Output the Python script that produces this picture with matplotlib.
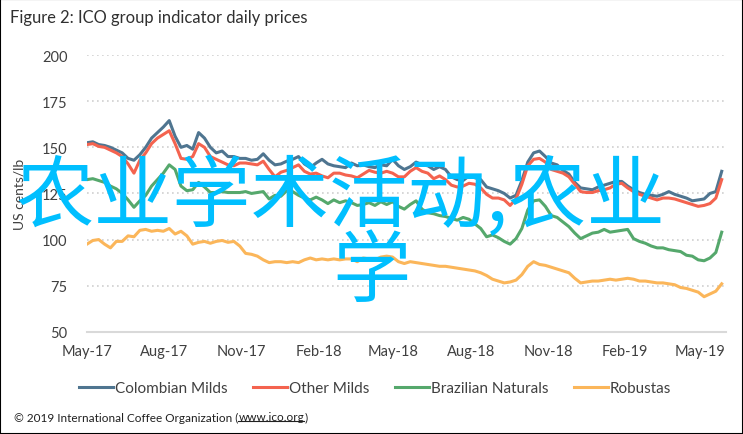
import numpy as np
import pandas as pd
import matplotlib
matplotlib.use("Agg")
import matplotlib.pyplot as plt
import matplotlib.dates as mdates
from matplotlib.patches import Rectangle
from matplotlib.lines import Line2D

# weekly readings, May 2017 - May 2019 (US cents/lb)
dates = pd.date_range("2017-05-01", periods=109, freq="7D")

colombian = [152.5, 153, 151.5, 151, 150, 148.5, 147, 144, 143, 146, 150, 155, 158, 161, 164.5, 156, 150, 151, 149, 158, 155, 150, 147, 148, 145, 145, 144, 144, 143,
             143.5, 146.5, 143, 140.5, 141, 142.5, 143.5, 145, 141, 139, 141.5, 143.5, 141, 140, 139.5, 139, 141.5, 140, 140.5, 139.5, 139, 140.5, 140, 143.5, 140, 138, 139.5, 142,
             140.5, 140, 138, 139.5, 138, 134, 132.5, 132, 134.5, 133.5, 132.5, 128.5, 127.5, 126.5, 125, 122.5, 124, 132, 142, 147, 148, 145, 141.5, 140.5, 137.5, 135.5, 131, 128,
             127.5, 127, 128.5, 129.5, 130.5, 131.5, 131.5, 129, 127, 125.5, 124.5, 124, 123.5, 124.5, 126, 124.5, 123.5, 122.5, 121, 121.5, 122, 125, 126, 137]

other_milds = [151.5, 152, 150.5, 150, 148.5, 147, 145, 141, 136, 143, 147, 152, 155, 157, 159, 152, 144, 143.5, 145, 152, 150, 145, 143.5, 142, 140.5, 140, 141.5, 141.5, 141,
               140.5, 142.5, 138, 134, 136.5, 137.5, 139, 140.5, 137, 135.5, 136, 134.5, 133.5, 136, 136, 135, 134.5, 133.5, 135.5, 137.5, 136.5, 136, 137, 136, 134, 134, 137, 139,
               137, 136, 133, 134.5, 132.5, 129.5, 128.5, 129, 130.5, 130, 128, 124.5, 122.5, 122.5, 121.5, 118.5, 122, 130, 140, 143.5, 144, 142, 138, 137, 136, 134, 130, 126,
               125.5, 125.5, 126.5, 127, 128, 130, 130.5, 128, 126, 124.5, 123.5, 122.5, 121.5, 122.5, 122.5, 122, 121, 120, 119, 118, 118.5, 119.5, 122.5, 132.5]

brazilian = [132.5, 133, 132, 131, 129, 127.5, 125, 121.5, 117.5, 121, 124, 129, 132.5, 136, 140.5, 138, 129, 126.5, 127, 131, 128.5, 125.5, 125.5, 126, 125.5, 125.5, 125.5, 126, 125,
             125.5, 126, 122, 124, 123.5, 126.5, 126, 124, 122.5, 121.5, 123, 121.5, 119.5, 121.5, 120, 121, 120, 118.5, 119, 120, 118.5, 120.5, 119, 120.5, 118, 116.5, 119, 121,
             116.5, 114.5, 114, 113, 112.5, 111.5, 110.5, 112, 111, 108.5, 106, 101.5, 102.5, 101, 99, 97.5, 100.5, 106, 116, 121, 121.5, 118, 113, 112, 109.5, 107, 103.5, 100.5,
             102, 103.5, 104, 105.5, 104, 104.5, 105, 105.5, 100.5, 99, 98, 96.5, 95.5, 95.5, 94.5, 94, 93.5, 91.5, 91, 89, 88.5, 90, 93, 104]

robustas = [97.5, 99.5, 100, 97.5, 95.5, 99, 99, 102, 101.5, 105, 105.5, 104.5, 105, 104.5, 106, 103, 104.5, 102, 97.5, 98.5, 99, 98, 99, 99.5, 98.5, 99, 96.5, 92.5, 92,
            91, 89, 87.5, 88, 88, 87.5, 88, 87.5, 89, 90, 89, 89.5, 89, 89.5, 89, 89.5, 89.5, 88, 90, 89.5, 89, 90.5, 91, 90.5, 88, 87, 88, 87.5,
            87, 86.5, 86, 85.5, 85.5, 85, 84.5, 84, 83.5, 83, 82, 80.5, 78.5, 77.5, 76.5, 77, 78, 81, 85.5, 88, 86.5, 86, 85, 84, 83, 82, 79, 76.5,
            77, 77.5, 77.5, 78, 78.5, 78, 78.5, 79, 78.5, 77.5, 77.5, 77, 76.5, 76.5, 76, 75.5, 74, 73.5, 72.5, 71.5, 69, 70.5, 72, 76]

series = ["Colombian Milds", "Other Milds", "Brazilian Naturals", "Robustas"]
colors = ["#4f7590", "#f4634f", "#55a86c", "#fbb65a"]

plt.rcParams["font.family"] = ["Lato", "DejaVu Sans"]
txt = "#404040"

fig = plt.figure(figsize=(7.43, 4.35), dpi=100)
ax = fig.add_axes([0.117, 0.235, 0.86, 0.636])

for name, vals, c in zip(series, [colombian, other_milds, brazilian, robustas], colors):
    ax.plot(dates, vals, color=c, lw=2.2, label=name, solid_joinstyle="round")

ax.set_ylim(50, 200)
ax.set_yticks([50, 75, 100, 125, 150, 175, 200])
ax.set_xlim(pd.Timestamp("2017-05-01"), pd.Timestamp("2019-06-01"))
ax.xaxis.set_major_locator(mdates.MonthLocator(bymonth=[2, 5, 8, 11]))
ax.xaxis.set_major_formatter(mdates.DateFormatter("%b-%y"))

for v in [75, 100, 125, 150, 175, 200]:
    ax.axhline(v, color="#d0d0d0", lw=1.2, ls=(0, (1, 2)), zorder=0)
for s in ["top", "right", "left"]:
    ax.spines[s].set_visible(False)
ax.spines["bottom"].set_color("#d9d9d9")
ax.spines["bottom"].set_linewidth(1.5)
ax.tick_params(length=0, labelsize=10.5, labelcolor=txt, pad=9)
ax.tick_params(axis="y", pad=14)
ax.set_ylabel("US cents/lb", fontsize=10, color=txt, labelpad=12)

fig.text(0.013, 0.958, "Figure 2: ICO group indicator daily prices", fontsize=11.9,
         color="#303030", va="center")

ax.legend(loc="center", bbox_to_anchor=(0.505, 1 - 389 / 435), bbox_transform=fig.transFigure,
          ncol=4, frameon=False, fontsize=11, labelcolor=txt, handlelength=2.2,
          handletextpad=0.12, columnspacing=1.7)

# copyright line with underlined link
fig.canvas.draw()
r = fig.canvas.get_renderer()
t1 = fig.text(0.019, 17 / 435, "\u00a9 2019 International Coffee Organization (", fontsize=8.5,
              color="#202020", va="center")
bb = t1.get_window_extent(r)
t2 = fig.text(bb.x1 / 743, 17 / 435, "www.ico.org", fontsize=8.5, color="#202020", va="center")
bb2 = t2.get_window_extent(r)
fig.text(bb2.x1 / 743, 17 / 435, ")", fontsize=8.5, color="#202020", va="center")
fig.add_artist(Line2D([bb2.x0 / 743, bb2.x1 / 743], [(bb2.y0 + 1.5) / 435] * 2,
                      color="#202020", lw=0.8))

# overlay text
fig.text(340 / 743, 1 - 198 / 435, "农业学术活动,农业", fontsize=56.5, color="#00BFFF",
         family=["Noto Sans CJK SC"], ha="center", va="center")
fig.text(372 / 743, 1 - 273 / 435, "学", fontsize=56.5, color="#00BFFF",
         family=["Noto Sans CJK SC"], ha="center", va="center")

fig.add_artist(Rectangle((0, 0), 1, 1, transform=fig.transFigure, fill=False,
                         edgecolor="black", lw=1.5))

fig.savefig("out.png", dpi=100)
